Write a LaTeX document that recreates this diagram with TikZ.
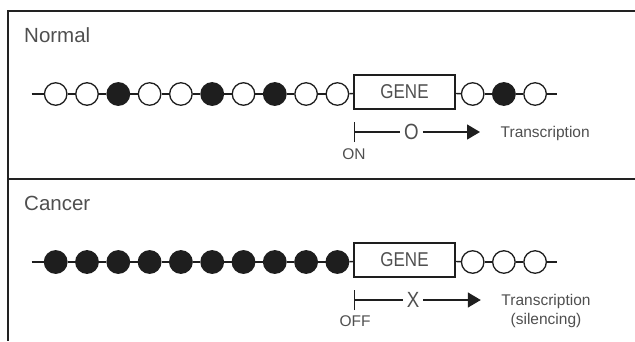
\documentclass[tikz,border=0pt]{standalone}
\usepackage{fontspec}
\setmainfont{Liberation Sans}
\newfontfamily\condfont[FakeStretch=0.85]{Liberation Sans}
\usetikzlibrary{arrows.meta}
\definecolor{ink}{HTML}{1E1E1E}
\definecolor{framec}{HTML}{222222}
\definecolor{textgray}{HTML}{4F4F4F}
\begin{document}
\begin{tikzpicture}[x=1pt,y=-1pt,
  txt/.style={text=textgray, inner sep=0},
  bead/.style={circle, draw=ink, line width=1.3pt, minimum size=22.5pt, inner sep=0, fill=white},
  genebox/.style={draw=ink, line width=1.4pt, minimum width=101pt, minimum height=34pt, inner sep=0,
    font=\condfont\fontsize{20}{20}\selectfont, text=textgray},
  link/.style={draw=ink, line width=1.4pt},
  frameline/.style={draw=framec, line width=2pt},
  sign/.style={text=textgray, inner xsep=4pt, inner ysep=0, font=\condfont\fontsize{22}{22}\selectfont},
  txarrow/.style={-{Triangle[length=13pt,width=15pt]}, draw=ink, line width=1.4pt},
  startbar/.style={{Bar[width=20pt]}-, draw=ink, line width=1.4pt},
  label/.style={txt, anchor=west, font=\fontsize{20.5}{21}\selectfont},
  small/.style={txt, font=\fontsize{15.5}{19}\selectfont},
 ]
\useasboundingbox (0,0) rectangle (635,341);

% frame
\draw[frameline] (635,11) -- (8,11) -- (8,341);
\draw[frameline] (8,179) -- (635,179);

% ---------------- Normal ----------------
\node[label] (nlab) at (24,35) {Normal};
\coordinate (nstart) at (31.7,94);
\coordinate (nend) at (556.7,94);
\foreach \i/\f in {1/white,2/white,3/ink,4/white,5/white,6/ink,7/white,8/ink,9/white,10/white}
  \node[bead, fill=\f] (n\i) at ({55.7+31.3*(\i-1)},94) {};
\node[genebox] (ngene) at (404.5,92) {GENE};
\foreach \i/\f in {1/white,2/ink,3/white}
  \node[bead, fill=\f] (nr\i) at ({472.7+31.2*(\i-1)},94) {};
\draw[link] (nstart) -- (n1);
\foreach \a/\b in {1/2,2/3,3/4,4/5,5/6,6/7,7/8,8/9,9/10}
  \draw[link] (n\a) -- (n\b);
\draw[link] (n10) -- (ngene);
\draw[link] (ngene) -- (nr1);
\draw[link] (nr1) -- (nr2);
\draw[link] (nr2) -- (nr3);
\draw[link] (nr3) -- (nend);

\coordinate (nbar) at (354,132);
\node[sign] (nsign) at (411.5,132) {O};
\node[small, anchor=west] (ntx) at (500.5,133) {Transcription};
\node[small] (non) at (354,154) {ON};
\draw[startbar] (nbar) -- (nsign.west);
\draw[txarrow, shorten >=20.5pt] (nsign.east) -- (nsign.east -| ntx.west);

% ---------------- Cancer ----------------
\node[label] (clab) at (24,203) {Cancer};
\coordinate (cstart) at (31.7,262);
\coordinate (cend) at (556.7,262);
\foreach \i in {1,...,10}
  \node[bead, fill=ink] (c\i) at ({55.7+31.3*(\i-1)},262) {};
\node[genebox] (cgene) at (404.5,260) {GENE};
\foreach \i in {1,2,3}
  \node[bead] (cr\i) at ({472.7+31.2*(\i-1)},262) {};
\draw[link] (cstart) -- (c1);
\foreach \a/\b in {1/2,2/3,3/4,4/5,5/6,6/7,7/8,8/9,9/10}
  \draw[link] (c\a) -- (c\b);
\draw[link] (c10) -- (cgene);
\draw[link] (cgene) -- (cr1);
\draw[link] (cr1) -- (cr2);
\draw[link] (cr2) -- (cr3);
\draw[link] (cr3) -- (cend);

\coordinate (cbar) at (354,300);
\node[sign] (csign) at (413,300) {X};
\node[small, align=center] (ctx) at (546,311) {Transcription\\(silencing)};
\node[small] (coff) at (355,321) {OFF};
\draw[startbar] (cbar) -- (csign.west);
\draw[txarrow, shorten >=20.5pt] (csign.east) -- (csign.east -| ctx.west);
\end{tikzpicture}
\end{document}
